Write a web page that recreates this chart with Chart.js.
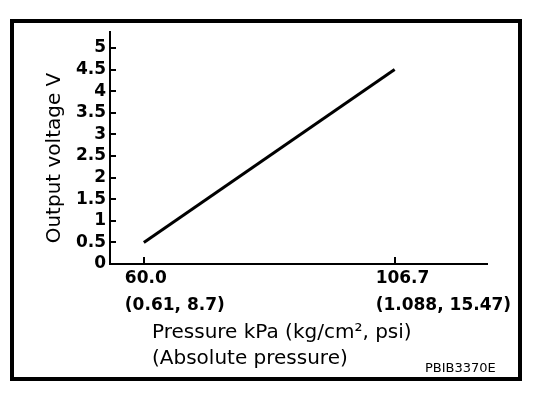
<!DOCTYPE html>
<html><head><meta charset="utf-8">
<script src="https://cdn.jsdelivr.net/npm/chart.js@4/dist/chart.umd.min.js"></script>
<style>html,body{margin:0;padding:0;background:#fff;}#wrap{width:560px;height:398px;}</style>
</head><body><div id="wrap"><canvas id="c" width="560" height="398"></canvas></div>
<script>
const pressureKPa = [60.0, 106.7];
const outputVoltage = [0.5, 4.5];
const xTickValues = [60.0, 106.7];
const xTickLabels = [["60.0", "(0.61, 8.7)"], ["106.7", "(1.088, 15.47)"]];
const yTickValues = [0, 0.5, 1, 1.5, 2, 2.5, 3, 3.5, 4, 4.5, 5];
const yTickLabels = ["0", "0.5", "1", "1.5", "2", "2.5", "3", "3.5", "4", "4.5", "5"];
const yAxisTitle = "Output voltage V";
const xAxisTitle = ["Pressure kPa (kg/cm\u00B2, psi)", "(Absolute pressure)"];
const figureCode = "PBIB3370E";

const FONT = "'DejaVu Sans', sans-serif";

const decor = {
  id: 'decor',
  afterDraw(chart) {
    const ctx = chart.ctx, x = chart.scales.x, y = chart.scales.y, ca = chart.chartArea;
    ctx.save();
    ctx.strokeStyle = '#000';
    ctx.lineWidth = 2;
    yTickValues.forEach(v => {
      const py = Math.round(y.getPixelForValue(v));
      ctx.beginPath(); ctx.moveTo(ca.left, py); ctx.lineTo(ca.left + 6, py); ctx.stroke();
    });
    xTickValues.forEach(v => {
      const px = Math.round(x.getPixelForValue(v));
      ctx.beginPath(); ctx.moveTo(px, ca.bottom); ctx.lineTo(px, ca.bottom - 7); ctx.stroke();
    });
    ctx.lineWidth = 4;
    ctx.strokeRect(12, 21, 508, 358);
    ctx.fillStyle = '#000';
    ctx.font = "20px " + FONT;
    ctx.textBaseline = 'middle';
    ctx.textAlign = 'center';
    ctx.save(); ctx.translate(55, 158); ctx.rotate(-Math.PI / 2); ctx.fillText(yAxisTitle, 0, 0); ctx.restore();
    ctx.textAlign = 'left';
    ctx.fillText(xAxisTitle[0], 152, 333);
    ctx.fillText(xAxisTitle[1], 152, 359);
    ctx.font = "13px " + FONT;
    ctx.fillText(figureCode, 425, 369);
    ctx.restore();
  }
};

new Chart(document.getElementById('c'), {
  type: 'line',
  data: {
    datasets: [{
      data: pressureKPa.map((p, i) => ({ x: p, y: outputVoltage[i] })),
      borderColor: '#000',
      borderWidth: 3,
      pointRadius: 0,
      borderCapStyle: 'butt',
      fill: false
    }]
  },
  options: {
    responsive: false,
    animation: false,
    devicePixelRatio: 1,
    layout: { padding: { top: 32, right: 73, bottom: 0, left: 0 } },
    plugins: { legend: { display: false }, tooltip: { enabled: false } },
    scales: {
      x: {
        type: 'linear',
        min: 53.7, max: 123.9,
        grid: { display: false, drawTicks: false },
        border: { display: true, color: '#000', width: 2 },
        afterBuildTicks: s => { s.ticks = xTickValues.map(v => ({ value: v })); },
        afterFit: s => { s.height = 134; s.paddingLeft = 0; s.paddingRight = 0; },
        ticks: {
          autoSkip: false, maxRotation: 0, minRotation: 0,
          align: 'start', labelOffset: -19, padding: 1,
          color: '#000',
          font: { family: FONT, size: 17, weight: 'bold', lineHeight: 1.6 },
          callback: (v, i) => xTickLabels[i]
        }
      },
      y: {
        type: 'linear',
        min: 0, max: 5.37,
        grid: { display: false, drawTicks: false },
        border: { display: true, color: '#000', width: 2 },
        afterBuildTicks: s => { s.ticks = yTickValues.map(v => ({ value: v })); },
        afterFit: s => { s.width = 110; s.paddingTop = 0; s.paddingBottom = 0; },
        ticks: {
          autoSkip: false, padding: 4,
          color: '#000',
          font: { family: FONT, size: 17, weight: 'bold' },
          callback: (v, i) => yTickLabels[i]
        }
      }
    }
  },
  plugins: [decor]
});
</script></body></html>
